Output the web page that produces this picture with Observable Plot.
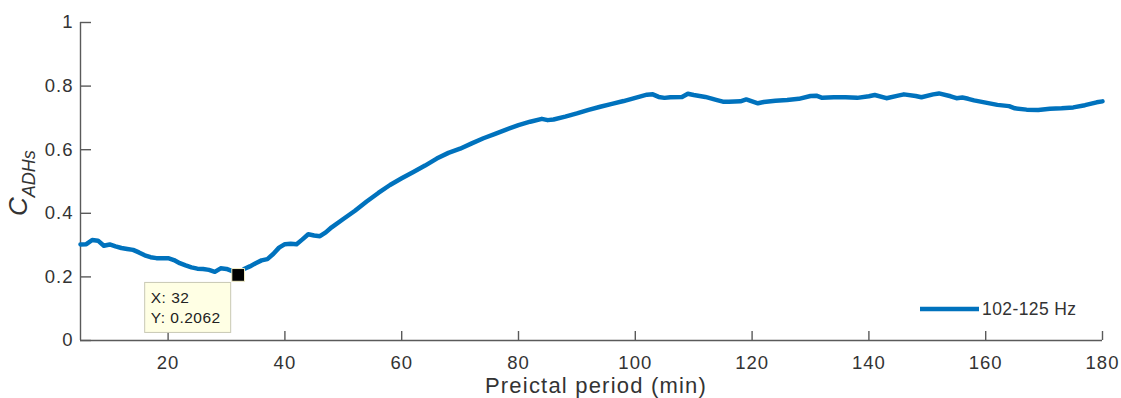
<!DOCTYPE html>
<html>
<head>
<meta charset="utf-8">
<script src="https://cdn.jsdelivr.net/npm/d3@7"></script>
<script src="https://cdn.jsdelivr.net/npm/@observablehq/plot@0.6"></script>
<style>
  html, body { margin: 0; padding: 0; background: #fff; }
  #chart svg { display: block; }
  #chart svg g[aria-label="x-axis tick label"] text,
  #chart svg g[aria-label="y-axis tick label"] text { letter-spacing: 1px; }
</style>
</head>
<body>
<div id="chart"></div>
<script>
// ---- data ----
const minutes = [5,6,7,8,9,10,11,12,13,14,15,16,17,18,19,20,21,22,23,24,25,26,27,28,29,30,31,32,33,34,35,36,37,38,39,40,41,42,43,44,45,46,47,48,50,52,54,56,58,60,62,64,66,68,70,72,74,76,78,80,82,84,85,86,88,90,92,94,96,98,100,102,103,104,105,106,108,109,110,112,114,115,116,118,119,120,121,122,124,126,128,130,131,132,134,136,138,140,141,143,145,146,148,149,151,152,154,155,156,157,158,160,162,164,165,167,169,171,173,175,177,179,180];
const cadhs = [0.302,0.303,0.316,0.314,0.298,0.302,0.296,0.291,0.288,0.285,0.277,0.268,0.262,0.259,0.259,0.259,0.253,0.243,0.236,0.230,0.226,0.225,0.222,0.216,0.227,0.225,0.218,0.2062,0.225,0.233,0.243,0.252,0.256,0.272,0.292,0.303,0.304,0.303,0.318,0.334,0.330,0.328,0.340,0.356,0.382,0.408,0.437,0.464,0.489,0.510,0.530,0.550,0.572,0.590,0.603,0.620,0.636,0.650,0.664,0.677,0.688,0.697,0.693,0.695,0.704,0.714,0.725,0.735,0.744,0.753,0.763,0.773,0.774,0.766,0.763,0.765,0.766,0.776,0.772,0.766,0.756,0.751,0.751,0.752,0.758,0.752,0.746,0.750,0.754,0.756,0.760,0.769,0.770,0.763,0.765,0.765,0.763,0.768,0.772,0.762,0.770,0.774,0.769,0.765,0.774,0.777,0.768,0.762,0.764,0.760,0.755,0.748,0.741,0.737,0.730,0.726,0.725,0.729,0.730,0.733,0.740,0.749,0.752];
const seriesName = "102-125 Hz";
const xTicks = [20,40,60,80,100,120,140,160,180];
const yTicks = [0,0.2,0.4,0.6,0.8,1];
const xDomain = [5,180];
const yDomain = [0,1];
const datatip = [{x: 32, y: 0.2062}];
const xTitle = "Preictal period (min)";
const yTitleMain = "C";
const yTitleSub = "ADHs";

const data = minutes.map((m, i) => ({x: m, y: cadhs[i]}));

const W = 1121, H = 398;
const mL = 80, mR = 19, mT = 22, mB = 58;
const axisColor = "#5a5a5a";
const textColor = "#333333";
const lineColor = "#0072BD";
const pxPerY = (H - mT - mB) / (yDomain[1] - yDomain[0]);
const pxPerX = (W - mL - mR) / (xDomain[1] - xDomain[0]);

const plot = Plot.plot({
  width: W, height: H,
  marginLeft: mL, marginRight: mR, marginTop: mT, marginBottom: mB,
  style: {fontFamily: "'Liberation Sans', Arial, sans-serif", fontSize: "18px", color: textColor, background: "#fff"},
  x: {domain: xDomain},
  y: {domain: yDomain},
  marks: [
    // axis lines
    Plot.ruleY([yDomain[0]], {x1: xDomain[0], x2: xDomain[1], stroke: axisColor, strokeWidth: 1.4}),
    Plot.ruleX([xDomain[0]], {y1: yDomain[0], y2: yDomain[1], stroke: axisColor, strokeWidth: 1.4}),
    // inward ticks
    Plot.ruleX(xTicks, {x: d => d, y1: yDomain[0], y2: yDomain[0] + 9 / pxPerY, stroke: axisColor, strokeWidth: 1.4}),
    Plot.ruleY(yTicks, {y: d => d, x1: xDomain[0], x2: xDomain[0] + 11 / pxPerX, stroke: axisColor, strokeWidth: 1.4}),
    Plot.axisX({ticks: xTicks, tickSize: 0, tickPadding: 15, label: null, tickFormat: d => String(d), fill: textColor, fontSize: 18.5}),
    Plot.axisY({ticks: yTicks, tickSize: 0, tickPadding: 7, label: null, tickFormat: d => d3.format("~g")(d), fill: textColor, fontSize: 18.5}),
    // data line
    Plot.line(data, {x: "x", y: "y", stroke: lineColor, strokeWidth: 4.5, strokeLinejoin: "round", strokeLinecap: "round"}),
    // datatip marker + box
    Plot.dot(datatip, {
      x: "x", y: "y", symbol: "square", r: 7.2, fill: "#000", stroke: "#f5f0c8", strokeWidth: 1,
      render(index, scales, values, dims, context, next) {
        const g = next(index, scales, values, dims, context);
        const i = index[0];
        const px = values.x[i], py = values.y[i];
        const tip = d3.create("svg:g").attr("transform", `translate(${px},${py})`)
          .attr("text-anchor", "start").style("letter-spacing", "0.5px");
        tip.append("rect").attr("x", -93).attr("y", 8).attr("width", 86).attr("height", 50)
          .attr("fill", "#ffffe4").attr("stroke", "#c9c9b4").attr("stroke-width", 1);
        tip.append("text").attr("x", -87).attr("y", 29).attr("font-size", 15.5).attr("fill", "#222")
          .text(`X: ${datatip[0].x}`);
        tip.append("text").attr("x", -87).attr("y", 49).attr("font-size", 15.5).attr("fill", "#222")
          .text(`Y: ${datatip[0].y}`);
        const wrap = d3.create("svg:g");
        wrap.node().appendChild(tip.node());
        wrap.node().appendChild(g);
        return wrap.node();
      }
    })
  ]
});

const svg = d3.select(plot);
// x title
svg.append("text")
  .attr("x", 596).attr("y", 393)
  .attr("text-anchor", "middle").attr("font-size", 22).attr("fill", textColor)
  .style("letter-spacing", "1.2px")
  .text(xTitle);
// y title with subscript
const yt = svg.append("text")
  .attr("transform", "translate(27,216) rotate(-90)")
  .attr("text-anchor", "start").attr("fill", textColor).attr("font-style", "italic");
yt.append("tspan").attr("font-size", 26).text(yTitleMain);
yt.append("tspan").attr("font-size", 18).attr("dy", 8).text(yTitleSub);
// legend
const lg = svg.append("g").attr("text-anchor", "start");
lg.append("line").attr("x1", 920).attr("x2", 979).attr("y1", 309).attr("y2", 309)
  .attr("stroke", lineColor).attr("stroke-width", 4.5);
lg.append("text").attr("x", 982).attr("y", 315).attr("font-size", 17.5).attr("fill", textColor)
  .style("letter-spacing", "0.4px")
  .text(seriesName);

document.getElementById("chart").appendChild(plot);
</script>
</body>
</html>
